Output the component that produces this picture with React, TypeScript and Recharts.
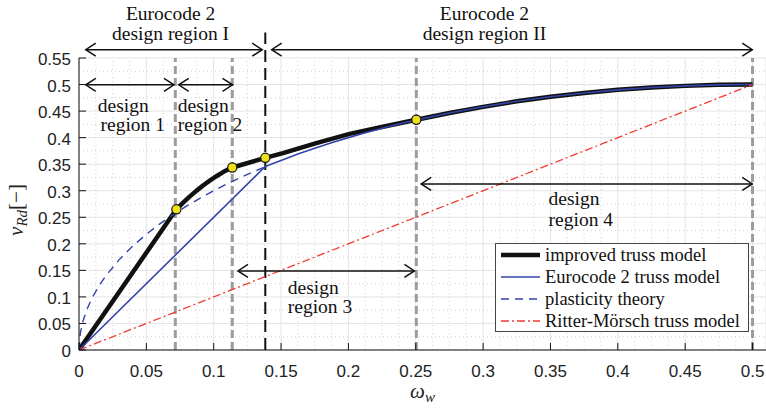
import React from 'react';
import {
  LineChart,
  Line,
  XAxis,
  YAxis,
  CartesianGrid,
  ReferenceLine,
  ReferenceDot,
  Legend,
} from 'recharts';

// ---------- axis ticks ----------
const xTicks = [0, 0.05, 0.1, 0.15, 0.2, 0.25, 0.3, 0.35, 0.4, 0.45, 0.5];
const xTickLabels = ['0', '0.05', '0.1', '0.15', '0.2', '0.25', '0.3', '0.35', '0.4', '0.45', '0.5'];
const yTicks = [0, 0.05, 0.1, 0.15, 0.2, 0.25, 0.3, 0.35, 0.4, 0.45, 0.5, 0.55];
const yTickLabels = ['0', '0.05', '0.1', '0.15', '0.2', '0.25', '0.3', '0.35', '0.4', '0.45', '0.5', '0.55'];
const xMinor = [
  0.0125, 0.025, 0.0375, 0.0625, 0.075, 0.0875, 0.1125, 0.125, 0.1375, 0.1625, 0.175, 0.1875,
  0.2125, 0.225, 0.2375, 0.2625, 0.275, 0.2875, 0.3125, 0.325, 0.3375, 0.3625, 0.375, 0.3875,
  0.4125, 0.425, 0.4375, 0.4625, 0.475, 0.4875,
];
const yMinor = [0.025, 0.075, 0.125, 0.175, 0.225, 0.275, 0.325, 0.375, 0.425, 0.475, 0.525];

// ---------- series ----------
const improvedX = [
  0, 0.0723, 0.0773, 0.0823, 0.0873, 0.0923, 0.0973, 0.1023, 0.1073, 0.1138, 0.1383, 0.1514,
  0.1762, 0.2009, 0.2256, 0.2504, 0.275, 0.3, 0.325, 0.35, 0.375, 0.4, 0.425, 0.45, 0.475, 0.5,
];
const improvedY = [
  0, 0.265, 0.2776, 0.2893, 0.3002, 0.3103, 0.3194, 0.3278, 0.3356, 0.3437, 0.362, 0.3708,
  0.3897, 0.407, 0.4205, 0.4336, 0.4465, 0.458, 0.4684, 0.477, 0.4841, 0.49, 0.4944, 0.4975,
  0.4994, 0.5,
];

const eurocodeX = [0, 0.1383, 0.145, 0.15, 0.1625, 0.175, 0.1875, 0.2, 0.2125, 0.225, 0.2375, 0.25, 0.275, 0.3, 0.325, 0.35, 0.375, 0.4, 0.425, 0.45, 0.475, 0.5];
const eurocodeY = [0, 0.3457, 0.3521, 0.3571, 0.369, 0.38, 0.3903, 0.4, 0.4091, 0.4176, 0.4256, 0.433, 0.4465, 0.4583, 0.4684, 0.477, 0.4841, 0.4899, 0.4944, 0.4975, 0.4994, 0.5];

const plasticityX = [0, 0.001, 0.003, 0.006, 0.01, 0.015, 0.02, 0.03, 0.04, 0.05, 0.06, 0.07, 0.08, 0.09, 0.1, 0.11, 0.12, 0.13, 0.1383];
const plasticityY = [0, 0.0316, 0.0547, 0.0772, 0.0995, 0.1214, 0.14, 0.1706, 0.196, 0.218, 0.2375, 0.2551, 0.2713, 0.2862, 0.3, 0.3129, 0.325, 0.3363, 0.3451];

const ritterX = [0, 0.5];
const ritterY = [0, 0.5];

const pointX = [0.0723, 0.1138, 0.1383, 0.2504];
const pointY = [0.265, 0.3437, 0.362, 0.4336];

// region boundaries
const regionBounds = [0.0715, 0.1138, 0.2504, 0.5];
const eurocodeBound = 0.1383;
const eurocodeBoundTop = 0.598;

// double arrows: [xStart, xEnd, y]
const arrowX1 = [0.005, 0.143, 0.005, 0.074, 0.118, 0.254];
const arrowX2 = [0.136, 0.4998, 0.0705, 0.114, 0.249, 0.4998];
const arrowY = [0.5656, 0.5656, 0.4996, 0.4996, 0.149, 0.3127];

// text annotations
const noteText = [
  'Eurocode 2', 'design region I', 'Eurocode 2', 'design region II',
  'design', 'region 1', 'design', 'region 2', 'design', 'region 3', 'design', 'region 4',
];
const noteX = [0.068, 0.068, 0.301, 0.301, 0.014, 0.016, 0.0733, 0.0733, 0.155, 0.155, 0.3486, 0.3486];
const noteY = [0.6221, 0.5844, 0.6221, 0.5844, 0.4487, 0.4118, 0.4487, 0.4118, 0.1059, 0.0688, 0.2727, 0.2345];
const noteAnchor = ['middle', 'middle', 'middle', 'middle', 'start', 'start', 'start', 'start', 'start', 'start', 'start', 'start'];

const legendLabels = ['improved truss model', 'Eurocode 2 truss model', 'plasticity theory', 'Ritter-Mörsch truss model'];

const toRows = (xs: number[], ys: number[]) => xs.map((x, i) => ({ x, y: ys[i] }));
const improvedData = toRows(improvedX, improvedY);
const eurocodeData = toRows(eurocodeX, eurocodeY);
const plasticityData = toRows(plasticityX, plasticityY);
const ritterData = toRows(ritterX, ritterY);
const pointData = toRows(pointX, pointY);

const BLACK = '#111111';
const BLUE = '#3444a8';
const RED = '#f23a30';
const SERIF = '"Liberation Serif", "Times New Roman", serif';
const SANS = '"Liberation Sans", Arial, sans-serif';

const legendStyles = [
  { stroke: BLACK, width: 4.5, dash: undefined as string | undefined },
  { stroke: BLUE, width: 1.6, dash: undefined as string | undefined },
  { stroke: BLUE, width: 1.4, dash: '8 6' },
  { stroke: RED, width: 1.3, dash: '8 3 2 3' },
];

const XTick = (props: any) => {
  const { x, y, payload } = props;
  const i = xTicks.findIndex((t) => Math.abs(t - payload.value) < 1e-9);
  return (
    <text x={x} y={y} dy={12} textAnchor="middle" fontFamily={SANS} fontSize={17} fill="#222">
      {i >= 0 ? xTickLabels[i] : ''}
    </text>
  );
};

const YTick = (props: any) => {
  const { x, y, payload } = props;
  const i = yTicks.findIndex((t) => Math.abs(t - payload.value) < 1e-9);
  return (
    <text x={x} y={y} dy={7} textAnchor="end" fontFamily={SANS} fontSize={17} fill="#222">
      {i >= 0 ? yTickLabels[i] : ''}
    </text>
  );
};

const ArrowShape = (props: any) => {
  const { x1, y1, x2, y2 } = props;
  if ([x1, y1, x2, y2].some((v) => typeof v !== 'number' || isNaN(v))) return null;
  const h = 10;
  const w = 6.5;
  return (
    <g stroke={BLACK} strokeWidth={1.5} fill="none">
      <line x1={x1} y1={y1} x2={x2} y2={y2} />
      <polyline points={`${x1 + h},${y1 - w} ${x1},${y1} ${x1 + h},${y1 + w}`} />
      <polyline points={`${x2 - h},${y2 - w} ${x2},${y2} ${x2 - h},${y2 + w}`} />
    </g>
  );
};

const makeNote = (i: number) => (props: any) => {
  const { cx, cy } = props;
  if (typeof cx !== 'number' || typeof cy !== 'number') return null;
  return (
    <text x={cx} y={cy} textAnchor={noteAnchor[i] as any} fontFamily={SERIF} fontSize={19.5} fill={BLACK}>
      {noteText[i]}
    </text>
  );
};

const XLabel = (props: any) => {
  const vb = props.viewBox || {};
  const cx = vb.x + vb.width / 2;
  const cy = vb.y + 48;
  return (
    <text x={cx} y={cy} textAnchor="middle" fontFamily={SERIF} fontSize={21} fill="#222">
      <tspan fontStyle="italic">ω</tspan>
      <tspan fontStyle="italic" fontSize={15} dy={4}>w</tspan>
    </text>
  );
};

const YLabel = (props: any) => {
  const vb = props.viewBox || {};
  const cx = vb.x + 23;
  const cy = vb.y + vb.height / 2 + 6;
  return (
    <text
      x={cx}
      y={cy}
      transform={`rotate(-90 ${cx} ${cy})`}
      textAnchor="middle"
      fontFamily={SERIF}
      fontSize={21}
      fill="#222"
    >
      <tspan fontStyle="italic">v</tspan>
      <tspan fontStyle="italic" fontSize={15} dy={4}>Rd</tspan>
      <tspan dy={-4}>[−]</tspan>
    </text>
  );
};

const LegendBox = () => (
  <div
    style={{
      width: 254,
      height: 89,
      boxSizing: 'border-box',
      border: '1px solid #444',
      background: '#fff',
      fontFamily: SERIF,
      fontSize: 18.5,
      color: BLACK,
    }}
  >
    {legendLabels.map((label, i) => (
      <div key={label} style={{ height: 22, display: 'flex', alignItems: 'center', whiteSpace: 'nowrap' }}>
        <svg width={49} height={22} style={{ flex: 'none' }}>
          <line
            x1={5}
            x2={44}
            y1={11}
            y2={11}
            stroke={legendStyles[i].stroke}
            strokeWidth={legendStyles[i].width}
            strokeDasharray={legendStyles[i].dash}
          />
        </svg>
        <span>{label}</span>
      </div>
    ))}
  </div>
);

export default function App() {
  return (
    <div style={{ position: 'absolute', left: 0, top: 0, background: '#fff' }}>
      <LineChart width={766} height={408} margin={{ top: 58, right: 0, bottom: 0, left: 0 }}>
        <CartesianGrid stroke="#e4e4e4" strokeWidth={1} />
        {xMinor.map((v) => (
          <ReferenceLine key={`xm${v}`} x={v} stroke="#c8c8c8" strokeWidth={0.8} strokeDasharray="1 3" />
        ))}
        {yMinor.map((v) => (
          <ReferenceLine key={`ym${v}`} y={v} stroke="#c8c8c8" strokeWidth={0.8} strokeDasharray="1 3" />
        ))}
        <XAxis
          dataKey="x"
          type="number"
          scale="linear"
          domain={[0, 0.51]}
          ticks={xTicks}
          height={58}
          interval={0}
          tickSize={-7}
          tickMargin={22}
          tick={<XTick />}
          stroke={BLACK}
          tickLine={{ stroke: BLACK }}
          allowDataOverflow
          label={<XLabel />}
        />
        <XAxis
          xAxisId="top"
          orientation="top"
          type="number"
          scale="linear"
          domain={[0, 0.51]}
          ticks={xTicks}
          height={0}
          interval={0}
          tickSize={-7}
          tick={false}
          stroke={BLACK}
          tickLine={{ stroke: BLACK }}
          allowDataOverflow
        />
        <YAxis
          type="number"
          scale="linear"
          domain={[0, 0.55]}
          ticks={yTicks}
          width={79}
          interval={0}
          tickSize={-7}
          tickMargin={15}
          tick={<YTick />}
          stroke={BLACK}
          tickLine={{ stroke: BLACK }}
          allowDataOverflow
          label={<YLabel />}
        />
        <YAxis
          yAxisId="right"
          orientation="right"
          type="number"
          scale="linear"
          domain={[0, 0.55]}
          ticks={yTicks}
          width={0}
          interval={0}
          tickSize={-7}
          tick={false}
          stroke={BLACK}
          tickLine={{ stroke: BLACK }}
          allowDataOverflow
        />

        {regionBounds.map((v) => (
          <ReferenceLine key={`rb${v}`} x={v} stroke="#9c9c9c" strokeWidth={3} strokeDasharray="8 4" />
        ))}
        <ReferenceLine
          segment={[
            { x: eurocodeBound, y: 0 },
            { x: eurocodeBound, y: eurocodeBoundTop },
          ]}
          ifOverflow="visible"
          stroke={BLACK}
          strokeWidth={2}
          strokeDasharray="12 6"
        />

        <Line
          data={improvedData}
          dataKey="y"
          type="linear"
          stroke={BLACK}
          strokeWidth={4.5}
          strokeLinejoin="round"
          dot={false}
          activeDot={false}
          isAnimationActive={false}
        />
        <Line
          data={eurocodeData}
          dataKey="y"
          type="linear"
          stroke={BLUE}
          strokeWidth={1.6}
          dot={false}
          activeDot={false}
          isAnimationActive={false}
        />
        <Line
          data={plasticityData}
          dataKey="y"
          type="linear"
          stroke={BLUE}
          strokeWidth={1.4}
          strokeDasharray="8 6"
          dot={false}
          activeDot={false}
          isAnimationActive={false}
        />
        <Line
          data={ritterData}
          dataKey="y"
          type="linear"
          stroke={RED}
          strokeWidth={1.3}
          strokeDasharray="8 3 2 3"
          dot={false}
          activeDot={false}
          isAnimationActive={false}
        />
        <Line
          data={pointData}
          dataKey="y"
          type="linear"
          stroke="none"
          dot={{ r: 4.6, fill: '#efe01c', stroke: BLACK, strokeWidth: 1.2 }}
          activeDot={false}
          isAnimationActive={false}
        />

        {arrowY.map((y, i) => (
          <ReferenceLine
            key={`ar${i}`}
            segment={[
              { x: arrowX1[i], y },
              { x: arrowX2[i], y },
            ]}
            ifOverflow="visible"
            shape={ArrowShape}
          />
        ))}
        {noteText.map((t, i) => (
          <ReferenceDot key={`nt${i}`} x={noteX[i]} y={noteY[i]} r={0} ifOverflow="visible" shape={makeNote(i)} />
        ))}

        <Legend
          layout="vertical"
          align="center"
          verticalAlign="middle"
          content={<LegendBox />}
          wrapperStyle={{ left: 495, top: 243, width: 254, height: 89 }}
        />
      </LineChart>
    </div>
  );
}
